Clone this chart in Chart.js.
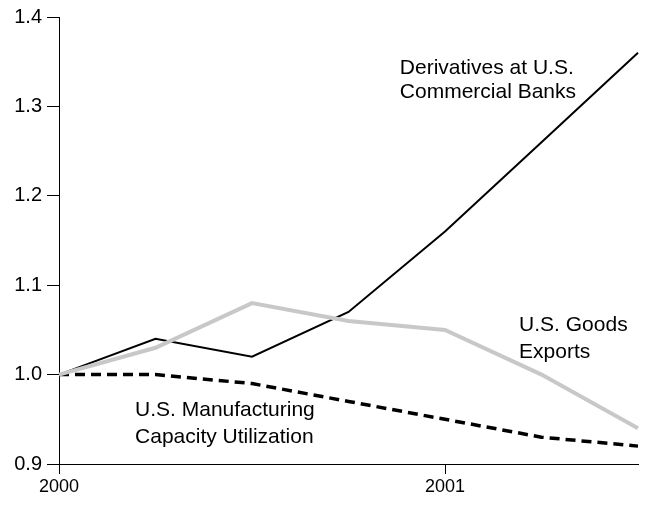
<!DOCTYPE html>
<html>
<head>
<meta charset="utf-8">
<script src="https://cdn.jsdelivr.net/npm/chart.js@4"></script>
<style>
  html, body { margin: 0; padding: 0; background: #fff; }
  #wrap { width: 651px; height: 508px; }
</style>
</head>
<body>
<div id="wrap"><canvas id="chart"></canvas></div>
<script>
// quarterly values, index 2000 = 1.0
const quarters = [2000, 2000.25, 2000.5, 2000.75, 2001, 2001.25, 2001.5];
const derivatives = [1.00, 1.04, 1.02, 1.07, 1.16, 1.26, 1.36];
const goodsExports = [1.00, 1.03, 1.08, 1.06, 1.05, 1.00, 0.94];
const capacityUtil = [1.00, 1.00, 0.99, 0.97, 0.95, 0.93, 0.92];
const xTicks = [2000, 2001];
const yTicks = [0.9, 1.0, 1.1, 1.2, 1.3, 1.4];

// series labels written on the plot: [text, x, y]
const labels = [
  ["Derivatives at U.S.", 2000.883, 1.343],
  ["Commercial Banks", 2000.883, 1.316],
  ["U.S. Goods", 2001.192, 1.055],
  ["Exports", 2001.192, 1.025],
  ["U.S. Manufacturing", 2000.197, 0.960],
  ["Capacity Utilization", 2000.197, 0.930]
];

const FONT = '"Liberation Sans", Arial, Helvetica, sans-serif';

function pts(ys) {
  return quarters.map((q, i) => ({x: q, y: ys[i]}));
}

const textPlugin = {
  id: 'seriesText',
  afterDatasetsDraw(chart) {
    const ctx = chart.ctx;
    const xs = chart.scales.x, ys = chart.scales.y;
    ctx.save();
    ctx.fillStyle = '#000';
    ctx.font = '21px ' + FONT;
    ctx.textAlign = 'left';
    ctx.textBaseline = 'middle';
    labels.forEach(l => {
      ctx.fillText(l[0], xs.getPixelForValue(l[1]), ys.getPixelForValue(l[2]));
    });
    ctx.restore();
  }
};

new Chart(document.getElementById('chart'), {
  type: 'line',
  data: {
    datasets: [
      {
        label: 'U.S. Goods Exports',
        data: pts(goodsExports),
        borderColor: '#c8c8c8',
        borderWidth: 4,
        pointRadius: 0,
        tension: 0
      },
      {
        label: 'U.S. Manufacturing Capacity Utilization',
        data: pts(capacityUtil),
        borderColor: '#000',
        borderWidth: 3.5,
        borderDash: [10, 6],
        pointRadius: 0,
        tension: 0
      },
      {
        label: 'Derivatives at U.S. Commercial Banks',
        data: pts(derivatives),
        borderColor: '#000',
        borderWidth: 2,
        pointRadius: 0,
        tension: 0
      }
    ]
  },
  options: {
    responsive: true,
    maintainAspectRatio: false,
    animation: false,
    clip: false,
    layout: { padding: { top: 10, right: 13, left: 0, bottom: 0 } },
    plugins: {
      legend: { display: false },
      tooltip: { enabled: false }
    },
    scales: {
      x: {
        type: 'linear',
        min: 2000,
        max: 2001.5,
        afterBuildTicks: s => { s.ticks = xTicks.map(v => ({value: v})); },
        afterFit: s => { s.height = 44; },
        border: { color: '#000', width: 1 },
        grid: { drawOnChartArea: false, color: '#000', tickLength: 10 },
        ticks: {
          color: '#000',
          font: { family: FONT, size: 18 },
          padding: 2,
          maxRotation: 0,
          callback: v => String(v)
        }
      },
      y: {
        min: 0.9,
        max: 1.4,
        afterBuildTicks: s => { s.ticks = yTicks.map(v => ({value: v})); },
        afterFit: s => { s.width = 59; },
        border: { color: '#000', width: 1 },
        grid: { drawOnChartArea: false, color: '#000', tickLength: 12 },
        ticks: {
          color: '#000',
          font: { family: FONT, size: 20 },
          padding: 5,
          callback: v => v.toFixed(1)
        }
      }
    }
  },
  plugins: [textPlugin]
});
</script>
</body>
</html>
